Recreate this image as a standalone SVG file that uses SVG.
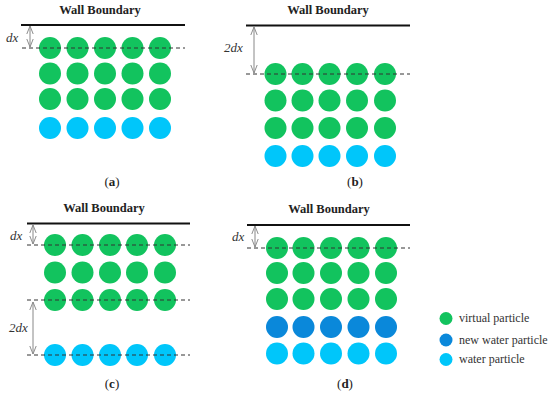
<svg xmlns="http://www.w3.org/2000/svg" width="550" height="397" viewBox="0 0 550 397">
<style>
.t{font-family:"Liberation Serif","DejaVu Serif",serif;font-weight:bold;font-size:12.5px;fill:#222;text-anchor:middle}
.dx{font-family:"Liberation Serif","DejaVu Serif",serif;font-style:italic;font-size:13px;fill:#333}
.cap{font-family:"Liberation Serif","DejaVu Serif",serif;font-size:13px;fill:#222;text-anchor:middle}
.lg{font-family:"Liberation Serif","DejaVu Serif",serif;font-size:12px;fill:#333}
.wall{stroke:#111;stroke-width:2}
.dash{stroke:#333;stroke-width:1;stroke-dasharray:4 3}
.arr{stroke:#888;stroke-width:1;fill:none;marker-start:url(#ah);marker-end:url(#ah)}
.g{fill:#12C35E}
.b{fill:#0A88DA}
.c{fill:#00C6FA}
</style>
<defs>
<marker id="ah" viewBox="0 0 10 10" refX="10" refY="5" markerWidth="8" markerHeight="8" orient="auto-start-reverse" markerUnits="userSpaceOnUse">
<path d="M0,1 L10,5 L0,9" fill="none" stroke="#888" stroke-width="1.2"/>
</marker>
</defs>

<g id="panel-a">
<text class="t" x="100" y="14">Wall Boundary</text>
<line class="wall" x1="21" y1="25" x2="185" y2="25"/>
<g class="g">
<circle cx="50" cy="48" r="11"/><circle cx="77.5" cy="48" r="11"/><circle cx="105" cy="48" r="11"/><circle cx="132.5" cy="48" r="11"/><circle cx="160" cy="48" r="11"/>
<circle cx="50" cy="73.5" r="11"/><circle cx="77.5" cy="73.5" r="11"/><circle cx="105" cy="73.5" r="11"/><circle cx="132.5" cy="73.5" r="11"/><circle cx="160" cy="73.5" r="11"/>
<circle cx="50" cy="99" r="11"/><circle cx="77.5" cy="99" r="11"/><circle cx="105" cy="99" r="11"/><circle cx="132.5" cy="99" r="11"/><circle cx="160" cy="99" r="11"/>
</g>
<g class="c">
<circle cx="50" cy="128" r="11"/><circle cx="77.5" cy="128" r="11"/><circle cx="105" cy="128" r="11"/><circle cx="132.5" cy="128" r="11"/><circle cx="160" cy="128" r="11"/>
</g>
<text class="dx" x="6" y="42">dx</text>
<text class="cap" x="112" y="186">(<tspan font-weight="bold">a</tspan>)</text>
</g>

<g id="panel-b">
<text class="t" x="328" y="14">Wall Boundary</text>
<line class="wall" x1="246" y1="25.5" x2="410" y2="25.5"/>
<g class="g">
<circle cx="275.5" cy="74" r="11"/><circle cx="302.5" cy="74" r="11"/><circle cx="329.5" cy="74" r="11"/><circle cx="357" cy="74" r="11"/><circle cx="385" cy="74" r="11"/>
<circle cx="275.5" cy="100.5" r="11"/><circle cx="302.5" cy="100.5" r="11"/><circle cx="329.5" cy="100.5" r="11"/><circle cx="357" cy="100.5" r="11"/><circle cx="385" cy="100.5" r="11"/>
<circle cx="275.5" cy="128" r="11"/><circle cx="302.5" cy="128" r="11"/><circle cx="329.5" cy="128" r="11"/><circle cx="357" cy="128" r="11"/><circle cx="385" cy="128" r="11"/>
</g>
<g class="c">
<circle cx="275.5" cy="156" r="11"/><circle cx="302.5" cy="156" r="11"/><circle cx="329.5" cy="156" r="11"/><circle cx="357" cy="156" r="11"/><circle cx="385" cy="156" r="11"/>
</g>
<text class="dx" x="224" y="52">2dx</text>
<text class="cap" x="355" y="186">(<tspan font-weight="bold">b</tspan>)</text>
</g>

<g id="panel-c">
<text class="t" x="104" y="212">Wall Boundary</text>
<line class="wall" x1="27" y1="223.5" x2="190" y2="223.5"/>
<g class="g">
<circle cx="55" cy="245" r="11"/><circle cx="82.5" cy="245" r="11"/><circle cx="110" cy="245" r="11"/><circle cx="137" cy="245" r="11"/><circle cx="165" cy="245" r="11"/>
<circle cx="55" cy="272.5" r="11"/><circle cx="82.5" cy="272.5" r="11"/><circle cx="110" cy="272.5" r="11"/><circle cx="137" cy="272.5" r="11"/><circle cx="165" cy="272.5" r="11"/>
<circle cx="55" cy="300" r="11"/><circle cx="82.5" cy="300" r="11"/><circle cx="110" cy="300" r="11"/><circle cx="137" cy="300" r="11"/><circle cx="165" cy="300" r="11"/>
</g>
<g class="c">
<circle cx="55" cy="355" r="11"/><circle cx="82.5" cy="355" r="11"/><circle cx="110" cy="355" r="11"/><circle cx="137" cy="355" r="11"/><circle cx="165" cy="355" r="11"/>
</g>
<text class="dx" x="10" y="240">dx</text>
<text class="dx" x="9" y="332">2dx</text>
<text class="cap" x="112" y="388">(<tspan font-weight="bold">c</tspan>)</text>
</g>

<g id="panel-d">
<text class="t" x="329" y="213">Wall Boundary</text>
<line class="wall" x1="247" y1="225" x2="410" y2="225"/>
<g class="g">
<circle cx="277" cy="248" r="11"/><circle cx="303.5" cy="248" r="11"/><circle cx="331" cy="248" r="11"/><circle cx="358.5" cy="248" r="11"/><circle cx="386" cy="248" r="11"/>
<circle cx="277" cy="273" r="11"/><circle cx="303.5" cy="273" r="11"/><circle cx="331" cy="273" r="11"/><circle cx="358.5" cy="273" r="11"/><circle cx="386" cy="273" r="11"/>
<circle cx="277" cy="299" r="11"/><circle cx="303.5" cy="299" r="11"/><circle cx="331" cy="299" r="11"/><circle cx="358.5" cy="299" r="11"/><circle cx="386" cy="299" r="11"/>
</g>
<g class="b">
<circle cx="277" cy="327" r="11"/><circle cx="303.5" cy="327" r="11"/><circle cx="331" cy="327" r="11"/><circle cx="358.5" cy="327" r="11"/><circle cx="386" cy="327" r="11"/>
</g>
<g class="c">
<circle cx="277" cy="353.5" r="11"/><circle cx="303.5" cy="353.5" r="11"/><circle cx="331" cy="353.5" r="11"/><circle cx="358.5" cy="353.5" r="11"/><circle cx="386" cy="353.5" r="11"/>
</g>
<text class="dx" x="232" y="241">dx</text>
<text class="cap" x="345" y="388">(<tspan font-weight="bold">d</tspan>)</text>
</g>

<g id="connectors">
<line class="dash" x1="22" y1="48" x2="185" y2="48"/>
<line class="arr" x1="30" y1="26" x2="30" y2="47"/>
<line class="dash" x1="246" y1="74" x2="410" y2="74"/>
<line class="arr" x1="254" y1="27" x2="254" y2="73"/>
<line class="dash" x1="27" y1="245" x2="190" y2="245"/>
<line class="dash" x1="27" y1="300" x2="190" y2="300"/>
<line class="dash" x1="27" y1="355" x2="190" y2="355"/>
<line class="arr" x1="33" y1="225" x2="33" y2="244"/>
<line class="arr" x1="33" y1="302" x2="33" y2="354"/>
<line class="dash" x1="247" y1="248" x2="410" y2="248"/>
<line class="arr" x1="255" y1="226" x2="255" y2="247"/>
</g>

<g id="legend">
<circle class="g" cx="446" cy="318.5" r="6.5"/>
<text class="lg" x="459" y="322">virtual particle</text>
<circle class="b" cx="446" cy="340" r="6.5"/>
<text class="lg" x="459" y="344">new water particle</text>
<circle class="c" cx="446" cy="359.5" r="6.5"/>
<text class="lg" x="459" y="363">water particle</text>
</g>
</svg>
